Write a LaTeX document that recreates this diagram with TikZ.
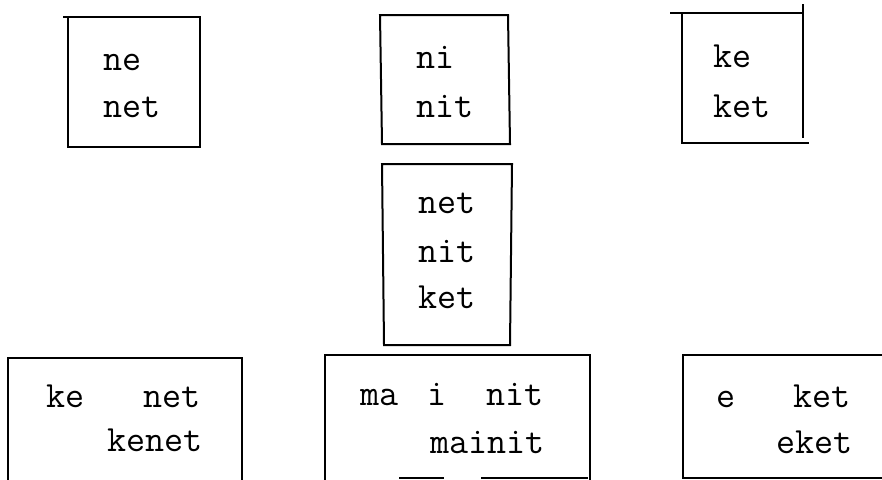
\documentclass[tikz,border=0pt]{standalone}
\usepackage{fontspec}
\setmonofont{Latin Modern Mono}
\begin{document}
\begin{tikzpicture}[x=1pt,y=-1pt,
  word/.style={anchor=base west,inner sep=0pt,font=\fontsize{37}{37}\selectfont\ttfamily},
  frame/.style={line width=2pt,line cap=rect}]
\useasboundingbox (0,0) rectangle (882,479);
% box 1
\draw[frame] (64,17) -- (200,17) -- (200,147) -- (68,147) -- (68,17);
\node[word] (ne) at (103,70) {ne};
\node[word] (net1) at (103,117) {net};
% box 2
\draw[frame] (380,15) -- (508,15) -- (510,144) -- (382,144) -- cycle;
\node[word] (ni) at (416,68) {ni};
\node[word] (nit1) at (416,117) {nit};
% box 3
\draw[frame] (671,13) -- (803,13);
\draw[frame] (682,13) -- (682,143) -- (808,143);
\draw[frame] (803,5) -- (803,137);
\node[word] (ke1) at (713,67) {ke};
\node[word] (ket1) at (713,117) {ket};
% box 4
\draw[frame] (382,164) -- (512,164) -- (510,345) -- (384,345) -- cycle;
\node[word] (net2) at (418,213) {net};
\node[word] (nit2) at (418,262) {nit};
\node[word] (ket2) at (418,308) {ket};
% box 5
\draw[frame] (8,479) -- (8,358) -- (242,358) -- (242,479);
\node[word] (ke2) at (46,407) {ke};
\node[word] (net3) at (143,407) {net};
\node[word] (kenet) at (107,451) {kenet};
% box 6
\draw[frame] (325,479) -- (325,355) -- (590,355) -- (590,479);
\draw[frame] (400,478) -- (443,478);
\draw[frame] (482,478) -- (587,478);
\node[word] (ma) at (360,405) {ma};
\node[word] (i) at (427,405) {i};
\node[word] (nit3) at (486,405) {nit};
\node[word] (mainit) at (430,453) {mainit};
% box 7
\draw[frame] (882,355) -- (683,355) -- (683,478) -- (882,478);
\node[word] (e) at (716,407) {e};
\node[word] (ket3) at (793,407) {ket};
\node[word] (eket) at (776,453) {eket};
\end{tikzpicture}
\end{document}
